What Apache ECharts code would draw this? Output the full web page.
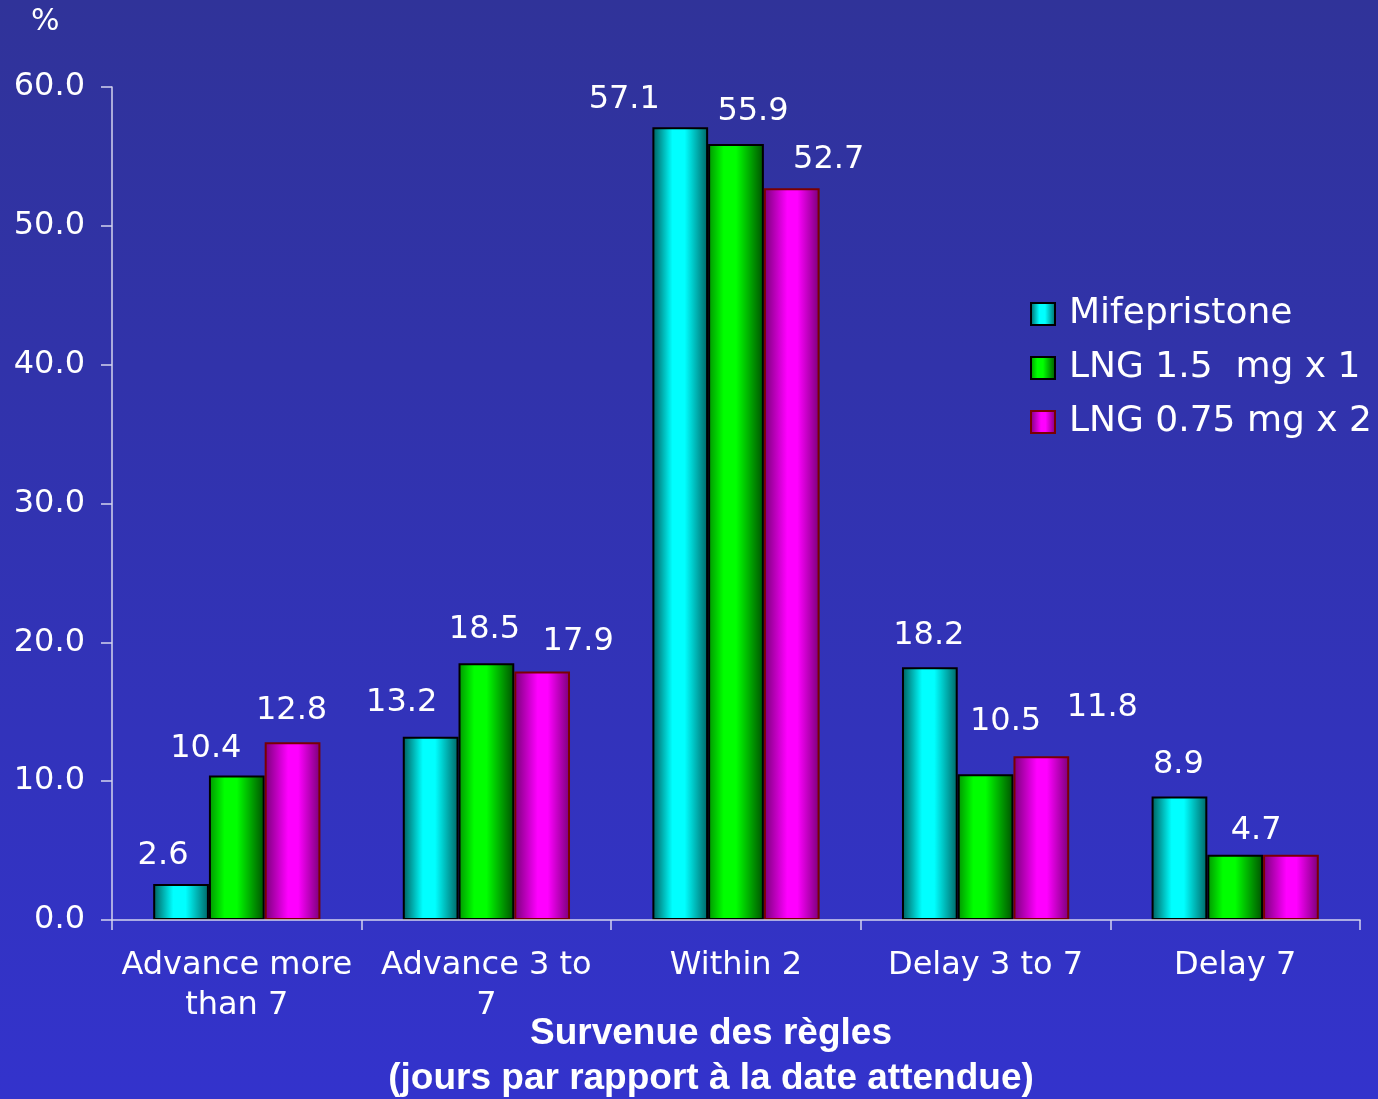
<!DOCTYPE html>
<html>
<head>
<meta charset="utf-8">
<title>Survenue des règles</title>
<script src="https://cdn.jsdelivr.net/npm/echarts@6/dist/echarts.min.js"></script>
<style>
  html, body { margin: 0; padding: 0; }
  body { width: 1378px; height: 1099px; background: linear-gradient(to bottom, #303399 0%, #3333cc 100%); }
  #chart { width: 1378px; height: 1099px; }
</style>
</head>
<body>
<div id="chart"></div>
<script>
// Timing of the next menses, by regimen (% of women)
const categories = ['Advance more\nthan 7', 'Advance 3 to\n7', 'Within 2', 'Delay 3 to 7', 'Delay 7'];
const seriesNames = ['Mifepristone', 'LNG 1.5  mg x 1', 'LNG 0.75 mg x 2'];
const mifepristone = [2.6, 13.2, 57.1, 18.2, 8.9];
const lng15x1 = [10.4, 18.5, 55.9, 10.5, 4.7];
const lng075x2 = [12.8, 17.9, 52.7, 11.8, 4.7];
const yTicks = [0, 10, 20, 30, 40, 50, 60];

// Hand-placed value label nudges [dx, dy] (null = label hidden)
const labelNudges = [
  [[-18, -7], [-29, -13], [-56, -7], [-1, -11], [-1, -11]],
  [[-31, -6], [-2, -12], [17, -11], [20, -32], [21, -3]],
  [[-1, -11], [36, -9], [37, -8], [61, -27], null]
];

const FONT = 'DejaVu Sans, Liberation Sans, Arial, sans-serif';

function cylinder(edgeL, mid, edgeR, a, b) {
  return {
    type: 'linear', x: 0, y: 0, x2: 1, y2: 0,
    colorStops: [
      { offset: 0, color: edgeL },
      { offset: a, color: mid },
      { offset: b, color: mid },
      { offset: 1, color: edgeR }
    ]
  };
}

const styles = [
  { fill: cylinder('#005c5c', '#00ffff', '#006464', 0.36, 0.58), border: '#000000' },
  { fill: cylinder('#009400', '#00ff00', '#005000', 0.28, 0.5), border: '#000000' },
  { fill: cylinder('#780078', '#ff00ff', '#780078', 0.42, 0.6), border: '#7a0000' }
];

const values = [mifepristone, lng15x1, lng075x2];

const series = values.map((vals, s) => ({
  name: seriesNames[s],
  type: 'bar',
  barGap: '0%',
  barCategoryGap: '33%',
  itemStyle: { color: styles[s].fill, borderColor: styles[s].border, borderWidth: 2 },
  label: {
    show: true,
    position: 'top',
    distance: 5,
    color: '#ffffff',
    fontFamily: FONT,
    fontSize: 32,
    lineHeight: 32,
    formatter: p => p.value.toFixed(1)
  },
  data: vals.map((v, i) => {
    const nudge = labelNudges[s][i];
    return nudge
      ? { value: v, label: { offset: nudge } }
      : { value: v, label: { show: false } };
  })
}));

const chart = echarts.init(document.getElementById('chart'), null, { renderer: 'canvas' });
chart.setOption({
  backgroundColor: 'transparent',
  animation: false,
  grid: { left: 112, right: 18, top: 87, bottom: 179, containLabel: false },
  legend: {
    orient: 'vertical',
    left: 1025,
    top: 289,
    itemWidth: 24,
    itemHeight: 22,
    itemGap: 14,
    icon: 'rect',
    textStyle: { color: '#ffffff', fontFamily: FONT, fontSize: 36, lineHeight: 40, padding: [0, 0, 0, 9] },
    data: seriesNames
  },
  xAxis: {
    type: 'category',
    data: categories,
    axisLine: { show: true, lineStyle: { color: '#d4d4ee', width: 1.5 } },
    axisTick: { show: true, length: 10, lineStyle: { color: '#d4d4ee', width: 1.5 } },
    axisLabel: { color: '#ffffff', fontFamily: FONT, fontSize: 32, lineHeight: 40, margin: 26, interval: 0 },
    z: 5
  },
  yAxis: {
    type: 'value',
    min: yTicks[0],
    max: yTicks[yTicks.length - 1],
    interval: 10,
    axisLine: { show: true, lineStyle: { color: '#d4d4ee', width: 1.5 } },
    axisTick: { show: true, length: 11, lineStyle: { color: '#d4d4ee', width: 1.5 } },
    axisLabel: { color: '#ffffff', fontFamily: FONT, fontSize: 32, margin: 27, formatter: v => v.toFixed(1) },
    splitLine: { show: false }
  },
  graphic: [
    {
      type: 'text', x: 31, y: 7,
      style: { text: '%', fill: '#ffffff', font: '30px ' + FONT }
    },
    {
      type: 'text', x: 711, y: 1011,
      style: {
        text: 'Survenue des règles\n(jours par rapport à la date attendue)',
        fill: '#ffffff',
        font: 'bold 37px Liberation Sans, Arial, sans-serif',
        lineHeight: 45,
        align: 'center',
        verticalAlign: 'top',
        textShadowColor: '#000000',
        textShadowOffsetX: 2,
        textShadowOffsetY: 2,
        textShadowBlur: 0
      }
    }
  ],
  series: series
});
</script>
</body>
</html>
